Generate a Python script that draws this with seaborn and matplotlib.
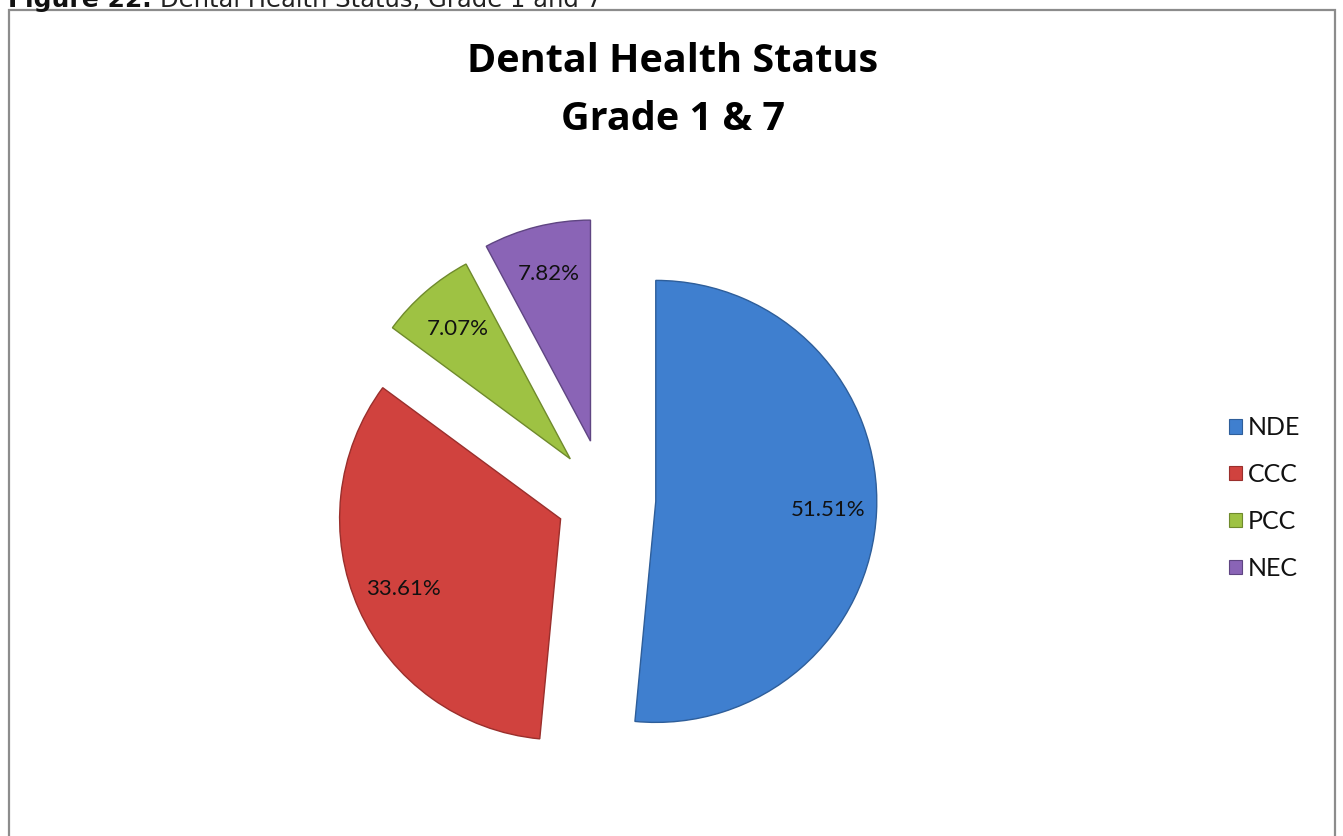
import matplotlib
matplotlib.use("Agg")
import matplotlib.pyplot as plt
import seaborn as sns
from matplotlib.patches import Patch, Rectangle

# data
categories = ['NDE', 'CCC', 'PCC', 'NEC']
shares = [51.51, 33.61, 7.07, 7.82]
pct_labels = ['51.51%', '33.61%', '7.07%', '7.82%']
colors = ['#3F7FCF', '#D0423E', '#9EC243', '#8A64B6']
edges = ['#2E5E9A', '#9A2F2C', '#6F8A2C', '#5F4582']

sns.set_theme(style='white')
plt.rcParams['font.family'] = ['Lato', 'DejaVu Sans']

fig = plt.figure(figsize=(13.43, 8.36), dpi=100)
W, H = 1343, 836

# outer chart frame
fig.patches.append(Rectangle((9 / W, -0.01), 1326 / W, 1 - 10 / H + 0.01,
                             transform=fig.transFigure, fill=False,
                             edgecolor='#8C8C8C', linewidth=1.6))

# caption at the very top (cut off by the page edge in the original)
fig.text(152 / W, 1 - 7 / H, 'Figure 22.', fontsize=18, fontweight='bold',
         family='DejaVu Sans', va='baseline', ha='right', color='#111111')
fig.text(160 / W, 1 - 7 / H, 'Dental Health Status, Grade 1 and 7', fontsize=17.5,
         family='DejaVu Sans', va='baseline', ha='left', color='#222222')

# title
fig.text(673 / W, 1 - 62 / H, 'Dental Health Status', fontsize=28.5,
         fontweight='bold', family='Open Sans', ha='center', va='center',
         color='black')
fig.text(673 / W, 1 - 120 / H, 'Grade 1 & 7', fontsize=28.5,
         fontweight='bold', family='Open Sans', ha='center', va='center',
         color='black')

# pie axes: square, center at (605, 499) px, radius 221 px
L = 1.5
side = 2 * L * 221
cx, cy = 605, 499
ax = fig.add_axes([(cx - side / 2) / W, (H - cy - side / 2) / H, side / W, side / H])

it = iter(pct_labels)
wedges, texts, autotexts = ax.pie(shares, colors=colors, startangle=90,
                                  counterclock=False,
                                  explode=[0.23, 0.22, 0.24, 0.27],
                                  autopct=lambda p: next(it), pctdistance=0.78,
                                  textprops={'fontsize': 16, 'color': '#111111'},
                                  wedgeprops={'linewidth': 1.0})
for w, e in zip(wedges, edges):
    w.set_edgecolor(e)
ax.set_xlim(-L, L)
ax.set_ylim(-L, L)
ax.set_aspect('equal')
ax.axis('off')

handles = [Patch(facecolor=c, edgecolor=e, linewidth=0.8) for c, e in zip(colors, edges)]
leg = fig.legend(handles, categories, loc='center left',
                 bbox_to_anchor=(1229 / W, 1 - 498 / H), frameon=False,
                 fontsize=18, handlelength=0.5, handleheight=0.5,
                 handletextpad=0.25, labelspacing=0.95, borderpad=0, borderaxespad=0)
for t in leg.get_texts():
    t.set_color('#111111')

fig.savefig('out.png', dpi=100)
